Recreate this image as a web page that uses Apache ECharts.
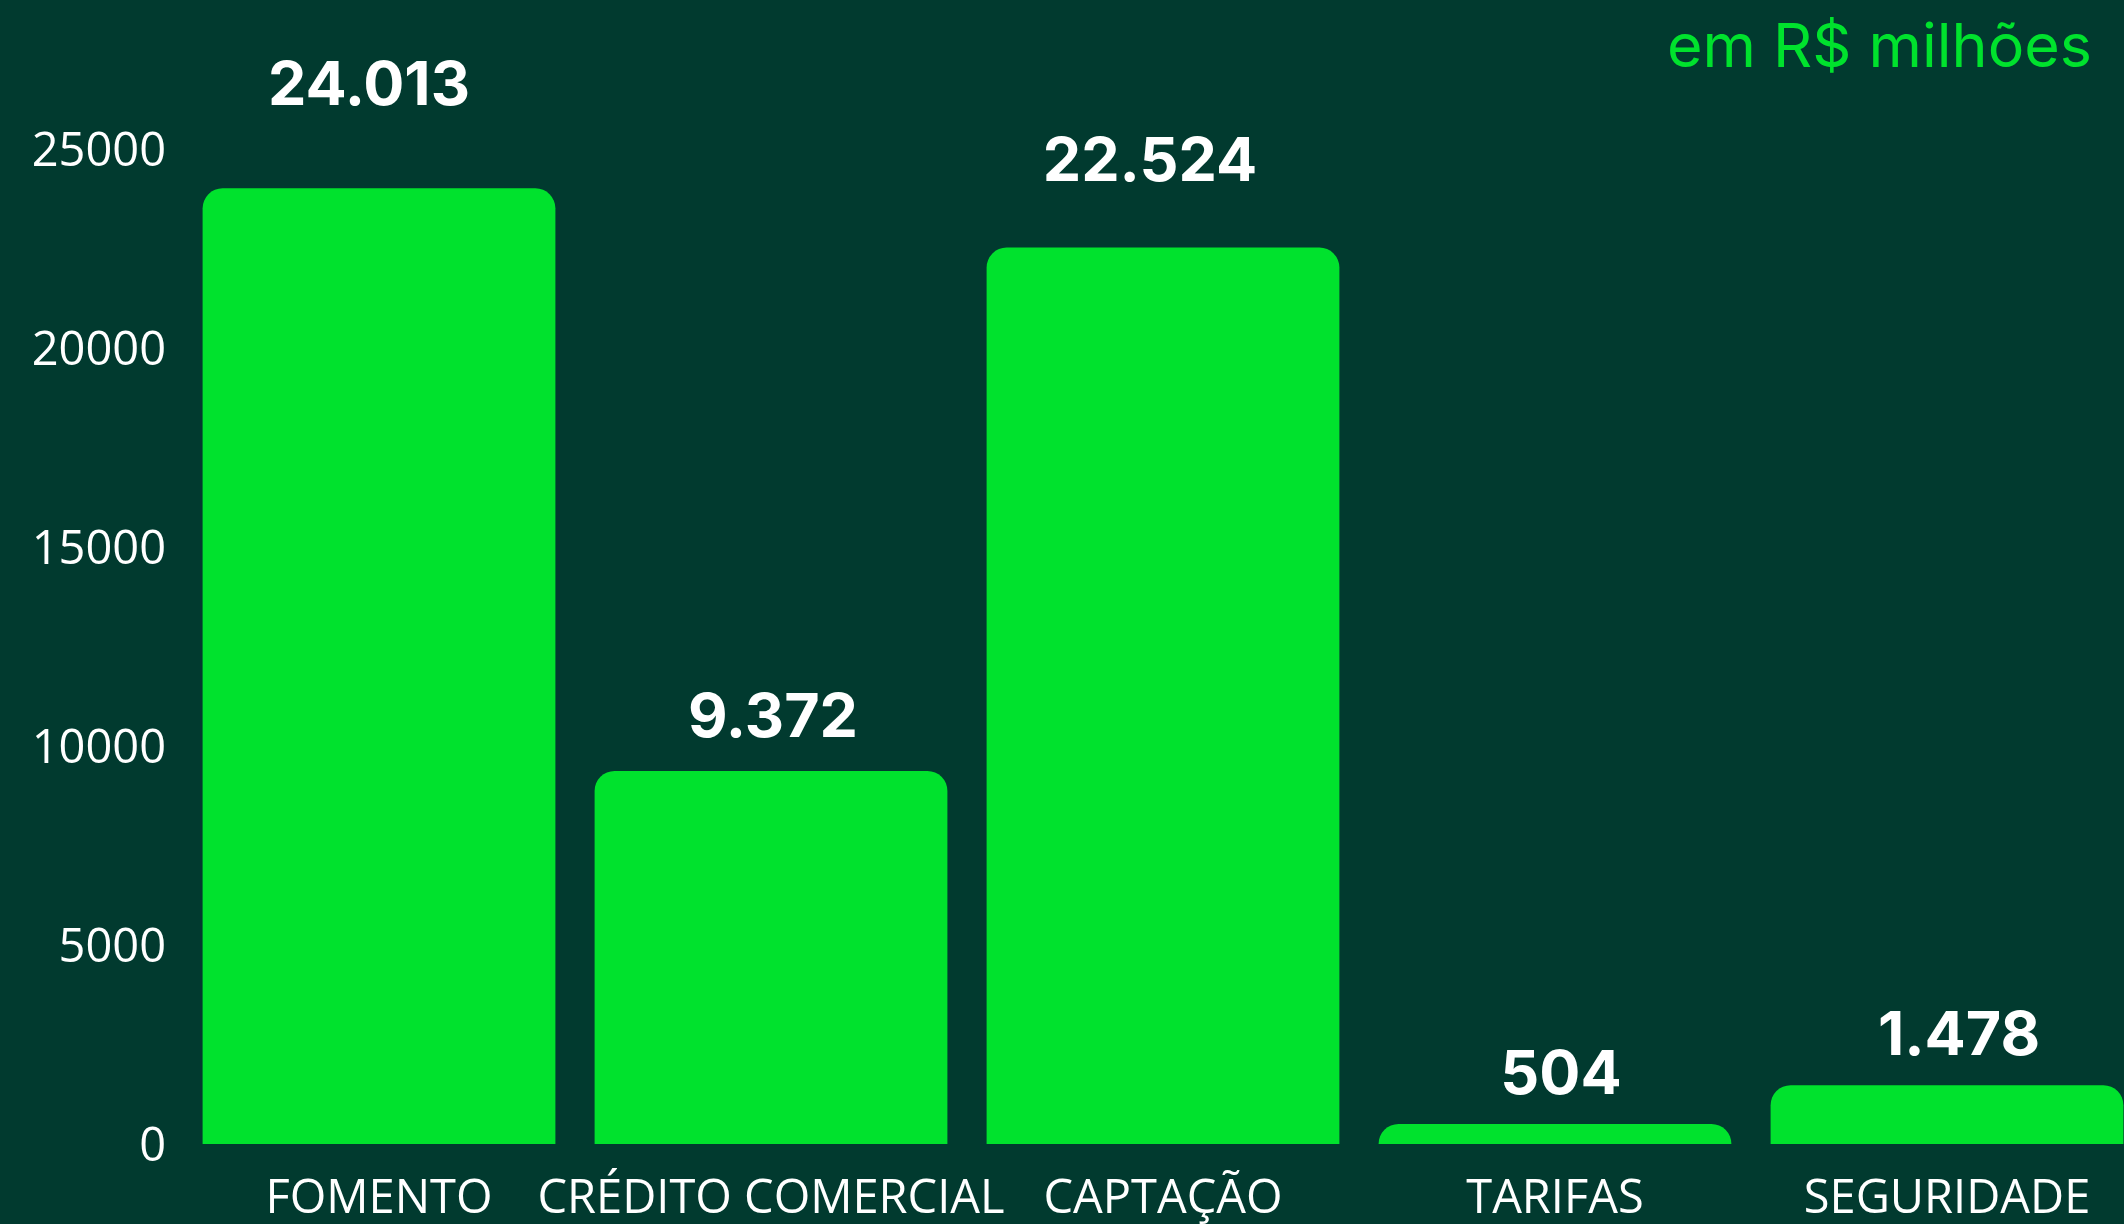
<!DOCTYPE html>
<html>
<head>
<meta charset="utf-8">
<script src="https://cdn.jsdelivr.net/npm/echarts@6/dist/echarts.min.js"></script>
<style>
  html, body { margin: 0; padding: 0; background: #013a2f; }
  #chart { width: 2124px; height: 1224px; }
</style>
</head>
<body>
<div id="chart"></div>
<script>
// ---- data ----
const categories = ['FOMENTO', 'CRÉDITO COMERCIAL', 'CAPTAÇÃO', 'TARIFAS', 'SEGURIDADE'];
const values = [24013, 9372, 22524, 504, 1478];
const valueLabels = ['24.013', '9.372', '22.524', '504', '1.478'];
const yTicks = [0, 5000, 10000, 15000, 20000, 25000];
const unitNote = 'em R$ milhões';

// ---- label placement tweaks (style, not data) ----
const labelExtraLift = [53, 4, 36, 0, 0];
const labelShiftX = [-10, 2, -13, 6, 12];

const GREEN = '#00e22d';
const BG = '#013a2f';

const chart = echarts.init(document.getElementById('chart'));
const seriesData = values.map((v, i) => ({
  value: v,
  label: {
    distance: 18 + labelExtraLift[i],
    offset: [labelShiftX[i], 0],
    formatter: () => valueLabels[i]
  }
}));

chart.setOption({
  backgroundColor: BG,
  animation: false,
  title: {
    text: unitNote,
    right: 27,
    top: 13,
    textStyle: { color: GREEN, fontFamily: 'Inter', fontWeight: 'normal', fontSize: 61 }
  },
  grid: {
    left: 183, width: 1960, top: 149, bottom: 80,
    containLabel: false,
    outerBoundsMode: 'none'
  },
  xAxis: {
    type: 'category',
    data: categories,
    axisLine: { show: false },
    axisTick: { show: false },
    axisLabel: {
      interval: 0,
      margin: 32,
      color: '#ffffff',
      fontFamily: 'Open Sans',
      fontSize: 47
    }
  },
  yAxis: {
    type: 'value',
    min: yTicks[0],
    max: yTicks[yTicks.length - 1],
    interval: yTicks[1] - yTicks[0],
    splitLine: { show: false },
    axisLine: { show: false },
    axisTick: { show: false },
    axisLabel: {
      margin: 17,
      color: '#ffffff',
      fontFamily: 'Open Sans',
      fontSize: 47,
      formatter: (v) => '{t|' + String(v) + '}',
      rich: {
        t: {
          color: '#ffffff',
          fontFamily: 'Open Sans',
          fontSize: 47,
          padding: [8, 0, 0, 0]
        }
      }
    }
  },
  series: [{
    type: 'bar',
    data: seriesData,
    barWidth: '90%',
    itemStyle: { color: GREEN, borderRadius: [20, 20, 0, 0] },
    label: {
      show: true,
      position: 'top',
      color: '#ffffff',
      fontFamily: 'Inter',
      fontWeight: 'bold',
      fontSize: 61
    }
  }]
});
</script>
</body>
</html>
